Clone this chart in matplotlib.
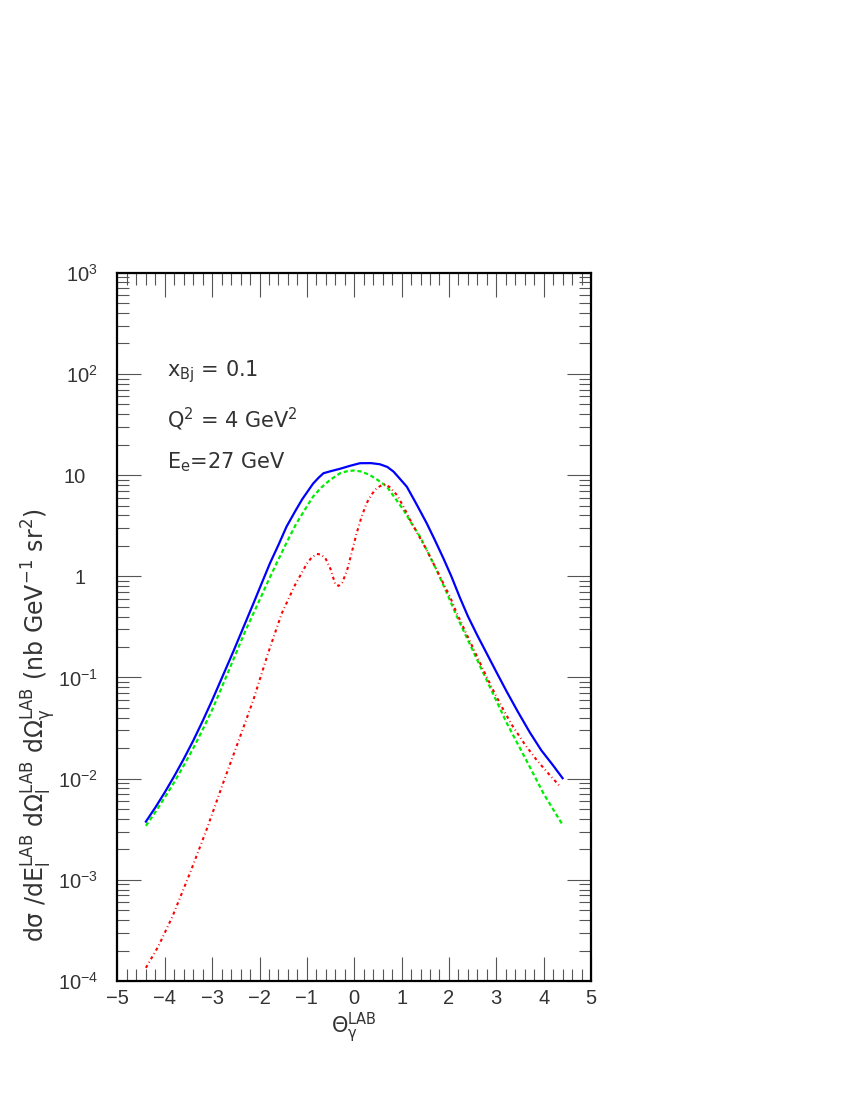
import numpy as np
import matplotlib
matplotlib.use('Agg')
import matplotlib.pyplot as plt
import matplotlib.transforms as mtransforms
from matplotlib.ticker import MultipleLocator, LogLocator, NullFormatter

# valores (log10 da secao de choque)
x_blue = [-4.40, -4.20, -4.00, -3.80, -3.60, -3.40, -3.20, -3.00, -2.80, -2.55,
          -2.30, -2.13, -1.99, -1.78, -1.60, -1.43, -1.25, -1.10, -0.87, -0.75,
          -0.65, -0.50, -0.30, -0.10, 0.12, 0.35, 0.54, 0.70, 0.83, 0.97,
          1.11, 1.30, 1.53, 1.70, 1.88, 2.05, 2.23, 2.40, 2.60, 2.80,
          3.00, 3.22, 3.45, 3.71, 3.95, 4.20, 4.40]
blue_log10 = [-2.425, -2.285, -2.135, -1.975, -1.805, -1.625, -1.43, -1.225, -1.01, -0.74,
              -0.46, -0.27, -0.11, 0.128, 0.31, 0.49, 0.64, 0.76, 0.915, 0.975,
              1.018, 1.038, 1.062, 1.09, 1.117, 1.118, 1.107, 1.08, 1.034, 0.96,
              0.885, 0.725, 0.524, 0.36, 0.18, 0.0, -0.21, -0.395, -0.585, -0.765,
              -0.945, -1.14, -1.335, -1.545, -1.72, -1.87, -1.996]

x_green = [-4.40, -4.20, -4.00, -3.80, -3.60, -3.40, -3.20, -3.00, -2.80, -2.55,
           -2.30, -2.03, -1.80, -1.64, -1.40, -1.22, -1.00, -0.87, -0.70, -0.51,
           -0.30, -0.15, 0.00, 0.15, 0.33, 0.50, 0.69, 0.85, 1.04, 1.20,
           1.39, 1.56, 1.74, 1.95, 2.16, 2.45, 2.83, 3.22, 3.68, 4.00, 4.40]
green_log10 = [-2.467, -2.33, -2.185, -2.035, -1.87, -1.70, -1.515, -1.32, -1.10, -0.82,
               -0.54, -0.267, -0.03, 0.128, 0.36, 0.523, 0.69, 0.787, 0.875, 0.952,
               1.018, 1.038, 1.045, 1.035, 1.00, 0.95, 0.885, 0.78, 0.655, 0.53,
               0.391, 0.23, 0.062, -0.16, -0.39, -0.68, -1.06, -1.45, -1.86, -2.15, -2.457]

x_red = [-4.40, -4.14, -3.84, -3.47, -3.12, -2.77, -2.41, -2.13, -1.82, -1.53,
         -1.25, -1.00, -0.90, -0.79, -0.70, -0.60, -0.50, -0.40, -0.33, -0.25,
         -0.15, -0.05, 0.05, 0.15, 0.26, 0.37, 0.47, 0.58, 0.65, 0.75,
         0.90, 1.05, 1.18, 1.35, 1.53, 1.70, 1.88, 2.02, 2.16, 2.35,
         2.55, 2.75, 2.97, 3.15, 3.33, 3.60, 3.85, 4.10, 4.35]
red_log10 = [-3.87, -3.66, -3.364, -2.935, -2.507, -2.045, -1.585, -1.222, -0.761, -0.366,
             -0.086, 0.125, 0.185, 0.22, 0.215, 0.17, 0.07, -0.08, -0.095, -0.06,
             0.06, 0.24, 0.425, 0.58, 0.721, 0.81, 0.869, 0.90, 0.909, 0.88,
             0.803, 0.68, 0.556, 0.41, 0.26, 0.10, -0.069, -0.20, -0.36, -0.55,
             -0.75, -0.95, -1.16, -1.32, -1.47, -1.66, -1.815, -1.95, -2.079]

y_ticks = [1e-4, 1e-3, 1e-2, 1e-1, 1, 10, 1e2, 1e3]
y_ticklabels = [r'$10^{-4}$', r'$10^{-3}$', r'$10^{-2}$', r'$10^{-1}$',
                '1', '10', r'$10^{2}$', r'$10^{3}$']

plt.rcParams['font.family'] = ['DejaVu Sans']
plt.rcParams['mathtext.fontset'] = 'dejavusans'
plt.rcParams['mathtext.default'] = 'regular'
plt.rcParams['lines.scale_dashes'] = False

texto = '#333333'

fig = plt.figure(figsize=(8.5, 11), dpi=100)
ax = fig.add_axes([0.1382, 0.1082, 0.5571, 0.6439])

ax.plot(x_green, np.power(10.0, green_log10), color='#00ee00', lw=1.6, dashes=(3, 2))
ax.plot(x_red, np.power(10.0, red_log10), color='#ff0000', lw=1.5, dashes=(2.2, 2.2, 0.6, 2.2))
ax.plot(x_blue, np.power(10.0, blue_log10), color='#0000ff', lw=1.6)

ax.set_yscale('log')
ax.set_xlim(-5, 5)
ax.set_ylim(1e-4, 1e3)

ax.xaxis.set_major_locator(MultipleLocator(1))
ax.xaxis.set_minor_locator(MultipleLocator(0.2))
ax.set_yticks(y_ticks)
labels_y = ax.set_yticklabels(y_ticklabels)
ax.yaxis.set_minor_locator(LogLocator(base=10, subs=np.arange(2, 10)))
ax.yaxis.set_minor_formatter(NullFormatter())

ax.tick_params(which='both', direction='in', top=True, right=True,
               width=0.8, color='#555555', labelcolor=texto, labelsize=14.5)
ax.tick_params(which='major', length=17)
ax.tick_params(which='minor', length=8.5)
ax.tick_params(axis='x', pad=6)
ax.tick_params(axis='y', pad=14)

for lab in ax.get_xticklabels() + ax.get_yticklabels():
    lab.set_fontfamily('Liberation Sans')

# rotulos sem expoente ficam alinhados pela base "10"
desloc = mtransforms.ScaledTranslation(-9 / 72, 0, fig.dpi_scale_trans)
for lab in labels_y:
    if '^' not in lab.get_text():
        lab.set_transform(lab.get_transform() + desloc)

for s in ax.spines.values():
    s.set_linewidth(1.6)

ax.set_xlabel('Θ$_{γ}^{LAB}$', fontsize=15, color=texto, labelpad=2)
ax.set_ylabel(r'dσ /dE$_{l}^{LAB}$ dΩ$_{l}^{LAB}$ dΩ$_{γ}^{LAB}$ (nb GeV$^{-1}$ sr$^{2}$)',
              fontsize=17, color=texto, va='center')
ax.yaxis.set_label_coords(-0.166, 0.361)

ax.text(0.104, 0.853, r'x$_{Bj}$ = 0.1', transform=ax.transAxes, fontsize=15, color=texto)
ax.text(0.104, 0.781, r'Q$^{2}$ = 4 GeV$^{2}$', transform=ax.transAxes, fontsize=15, color=texto)
ax.text(0.104, 0.723, r'E$_{e}$=27 GeV', transform=ax.transAxes, fontsize=15, color=texto)

fig.savefig('out.png', dpi=100)
